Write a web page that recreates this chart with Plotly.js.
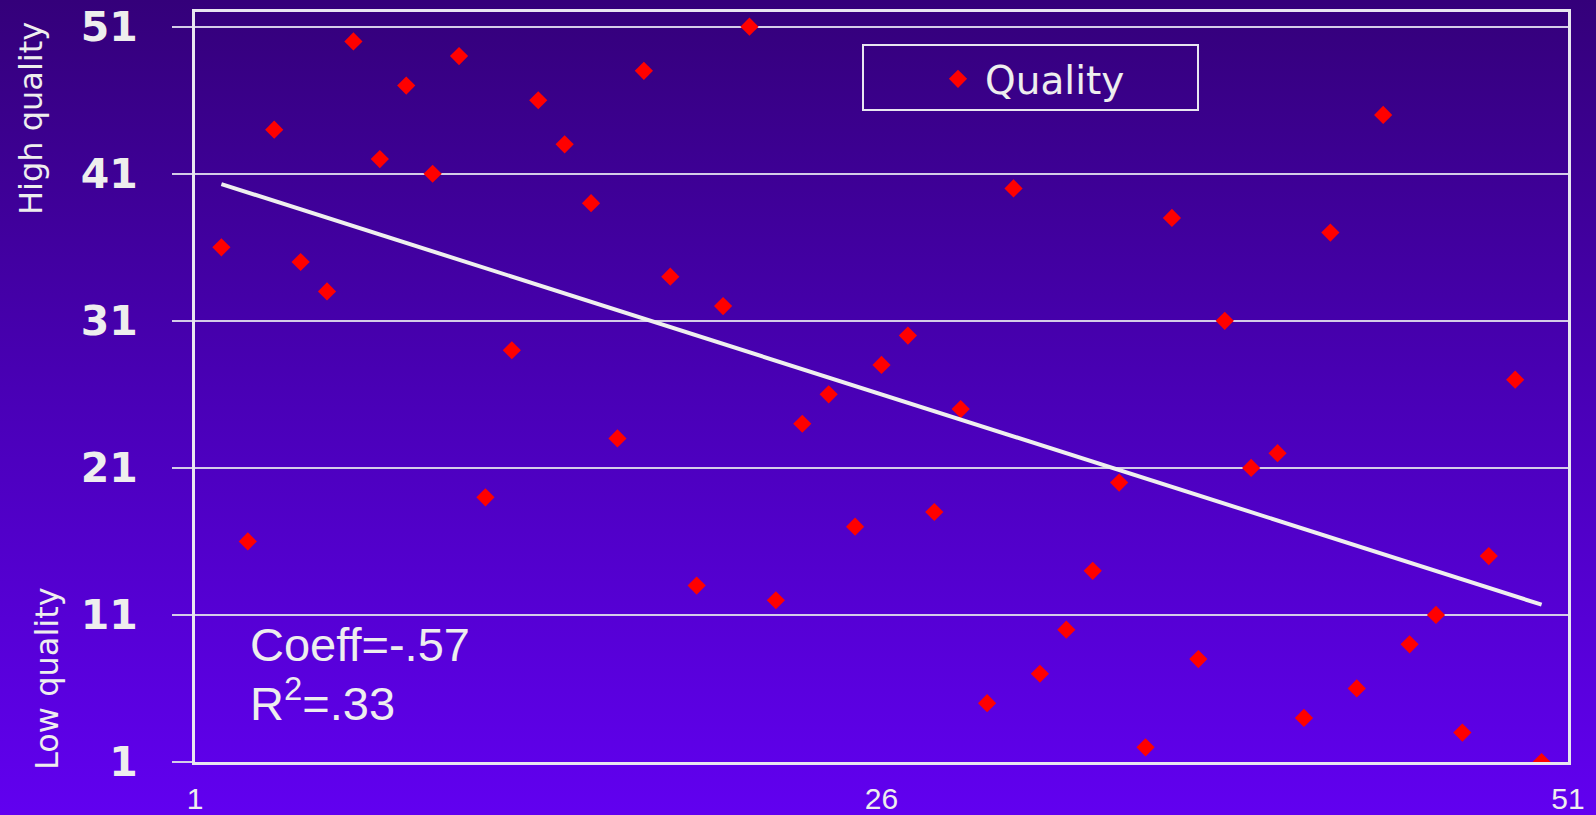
<!DOCTYPE html>
<html>
<head>
<meta charset="utf-8">
<script src="https://cdn.plot.ly/plotly-3.0.1.min.js"></script>
<style>
  html, body { margin: 0; padding: 0; }
  body { width: 1596px; height: 815px; overflow: hidden;
         background: linear-gradient(to bottom, #34007a 0%, #4a00b8 50%, #6100f0 100%); }
  #chart { width: 1596px; height: 815px; }
</style>
</head>
<body>
<div id="chart"></div>
<script>
// ---- data ----
const rankX = [1,2,3,4,5,6,7,8,9,10,11,12,13,14,15,16,17,18,19,20,21,22,23,24,25,26,27,28,29,30,31,32,33,34,35,36,37,38,39,40,41,42,43,44,45,46,47,48,49,50,51];
const quality = [36,16,44,35,33,50,42,47,41,49,19,29,46,43,39,23,48,34,13,32,51,12,24,26,17,28,30,18,25,5,40,7,10,14,20,2,38,8,31,21,22,4,37,6,45,9,11,3,15,27,1];
const trendX = [1, 51];
const trendY = [40.3, 11.7];
const yTickVals = [1, 11, 21, 31, 41, 51];
const xTickVals = [1, 26, 51];
const xTickText = ['1', '26', '51'];
const seriesName = 'Quality';
const statLines = ['Coeff=-.57', 'R<sup>2</sup>=.33'];
const axisNotes = ['High quality', 'Low quality'];

const FONT = 'Liberation Sans, Arial, sans-serif';
const WIDE = 'DejaVu Sans, sans-serif';
const TXT = '#eeeeee';
const GRID = '#d4cce8';

const traces = [
  {
    type: 'scatter', mode: 'markers', name: seriesName,
    x: rankX, y: quality,
    marker: { symbol: 'diamond', size: 14, color: '#ff0000' },
    xaxis: 'x', yaxis: 'y'
  },
  {
    type: 'scatter', mode: 'lines', showlegend: false,
    x: trendX, y: trendY,
    line: { color: '#efefef', width: 4 },
    xaxis: 'x', yaxis: 'y'
  },
  {
    type: 'scatter', mode: 'markers', showlegend: false, hoverinfo: 'skip',
    x: xTickVals, y: [null, null, null],
    xaxis: 'x2', yaxis: 'y'
  }
];

const layout = {
  width: 1596, height: 815,
  margin: { l: 195, r: 28, t: 12, b: 53 },
  paper_bgcolor: 'rgba(0,0,0,0)',
  plot_bgcolor: 'rgba(0,0,0,0)',
  font: { family: FONT, color: TXT },
  showlegend: true,
  xaxis: {
    range: [0, 52], showgrid: false, zeroline: false,
    showticklabels: false, ticks: '',
    showline: true, mirror: true, linecolor: '#e8e6f0', linewidth: 3
  },
  xaxis2: {
    overlaying: 'x', anchor: 'y', side: 'bottom',
    range: [1, 51], tickmode: 'array', tickvals: xTickVals, ticktext: xTickText,
    showgrid: false, zeroline: false, showline: false, ticks: '',
    ticklabelstandoff: 16,
    tickfont: { family: FONT, size: 30, color: TXT }
  },
  yaxis: {
    range: [1, 52], tickmode: 'array', tickvals: yTickVals,
    showgrid: true, gridcolor: GRID, gridwidth: 2, zeroline: false,
    ticks: 'outside', ticklen: 20, tickwidth: 2, tickcolor: GRID,
    ticklabelstandoff: 26,
    tickfont: { family: WIDE, size: 41, color: TXT, weight: 'bold' },
    showline: true, mirror: true, linecolor: '#e8e6f0', linewidth: 3
  },
  legend: {
    x: (931 - 195) / 1373, xanchor: 'left',
    y: (762 - 79) / 750, yanchor: 'middle',
    bgcolor: 'rgba(0,0,0,0)', borderwidth: 0,
    itemwidth: 44,
    font: { family: WIDE, size: 39, color: TXT }
  },
  shapes: [
    { type: 'rect', xref: 'paper', yref: 'paper',
      x0: (863 - 195) / 1373, x1: (1198 - 195) / 1373,
      y0: (762 - 110) / 750, y1: (762 - 45) / 750,
      line: { color: '#e8e6f0', width: 2 }, fillcolor: 'rgba(0,0,0,0)' }
  ],
  annotations: [
    { text: statLines[0], xref: 'paper', yref: 'paper',
      x: (248 - 195) / 1373, xanchor: 'left', y: (762 - 644) / 750, yanchor: 'middle',
      showarrow: false, font: { family: FONT, size: 47, color: TXT } },
    { text: statLines[1], xref: 'paper', yref: 'paper',
      x: (248 - 195) / 1373, xanchor: 'left', y: (762 - 700) / 750, yanchor: 'middle',
      showarrow: false, font: { family: FONT, size: 47, color: TXT } },
    { text: axisNotes[0], xref: 'paper', yref: 'paper',
      x: (31 - 195) / 1373, xanchor: 'center', y: (762 - 119) / 750, yanchor: 'middle',
      textangle: -90, showarrow: false, font: { family: WIDE, size: 32, color: TXT } },
    { text: axisNotes[1], xref: 'paper', yref: 'paper',
      x: (47 - 195) / 1373, xanchor: 'center', y: (762 - 679) / 750, yanchor: 'middle',
      textangle: -90, showarrow: false, font: { family: WIDE, size: 32, color: TXT } }
  ]
};

Plotly.newPlot('chart', traces, layout, { displayModeBar: false, staticPlot: true });
</script>
</body>
</html>
